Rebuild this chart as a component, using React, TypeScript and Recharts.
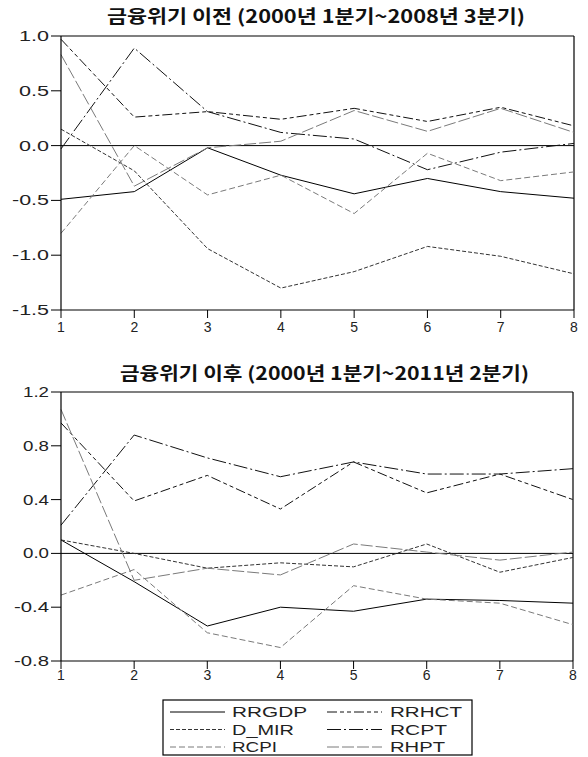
import React from 'react';
import { LineChart, Line, XAxis, YAxis, ReferenceLine } from 'recharts';

const periods = [1, 2, 3, 4, 5, 6, 7, 8];
const seriesNames = ['RRGDP', 'RRHCT', 'D_MIR', 'RCPT', 'RCPI', 'RHPT'];

const preTitle = '금융위기 이전 (2000년 1분기~2008년 3분기)';
const postTitle = '금융위기 이후 (2000년 1분기~2011년 2분기)';

const preYTicks = [-1.5, -1.0, -0.5, 0.0, 0.5, 1.0];
const postYTicks = [-0.8, -0.4, 0.0, 0.4, 0.8, 1.2];

// 금융위기 이전
const preRRGDP = [-0.49, -0.42, -0.02, -0.27, -0.44, -0.30, -0.42, -0.48];
const preRRHCT = [0.97, 0.26, 0.31, 0.24, 0.34, 0.22, 0.35, 0.18];
const preDMIR = [0.15, -0.23, -0.94, -1.30, -1.15, -0.92, -1.01, -1.17];
const preRCPT = [-0.03, 0.89, 0.31, 0.12, 0.06, -0.22, -0.06, 0.02];
const preRCPI = [-0.80, 0.00, -0.45, -0.27, -0.62, -0.07, -0.32, -0.24];
const preRHPT = [0.83, -0.37, -0.02, 0.04, 0.32, 0.13, 0.34, 0.12];

// 금융위기 이후
const postRRGDP = [0.10, -0.21, -0.54, -0.40, -0.43, -0.34, -0.35, -0.37];
const postRRHCT = [0.97, 0.39, 0.58, 0.33, 0.68, 0.45, 0.59, 0.40];
const postDMIR = [0.10, 0.00, -0.11, -0.07, -0.10, 0.07, -0.14, -0.03];
const postRCPT = [0.21, 0.88, 0.71, 0.57, 0.68, 0.59, 0.59, 0.63];
const postRCPI = [-0.31, -0.12, -0.59, -0.70, -0.24, -0.34, -0.37, -0.53];
const postRHPT = [1.07, -0.20, -0.11, -0.16, 0.07, 0.01, -0.05, 0.01];

const buildRows = (cols: number[][]) =>
  periods.map((p, i) => {
    const row: any = { p };
    seriesNames.forEach((n, k) => (row[n] = cols[k][i]));
    return row;
  });

const preData = buildRows([preRRGDP, preRRHCT, preDMIR, preRCPT, preRCPI, preRHPT]);
const postData = buildRows([postRRGDP, postRRHCT, postDMIR, postRCPT, postRCPI, postRHPT]);

const lineStyle: Record<string, { stroke: string; dash?: string }> = {
  RRGDP: { stroke: '#000000' },
  RRHCT: { stroke: '#111111', dash: '10 3 4 3 4 3' },
  D_MIR: { stroke: '#333333', dash: '4 2' },
  RCPT: { stroke: '#111111', dash: '14 3 2 3' },
  RCPI: { stroke: '#7a7a7a', dash: '6 3' },
  RHPT: { stroke: '#7a7a7a', dash: '12 3' },
};

const FONT = '"Liberation Sans", Arial, sans-serif';
const KFONT = '"Noto Sans CJK KR", "Noto Sans", sans-serif';

function makeYTick(wPos: number, wNeg: number) {
  return (props: any) => {
    const { x, y, payload } = props;
    const v = Number(payload.value);
    const label = v.toFixed(1);
    return (
      <text
        x={x}
        y={y + 5}
        textAnchor="end"
        fontSize={15}
        fontFamily={FONT}
        fill="#222"
        textLength={v < 0 ? wNeg : wPos}
        lengthAdjust="spacingAndGlyphs"
      >
        {label}
      </text>
    );
  };
}

function makeXTick(dy: number) {
  return (props: any) => {
    const { x, y, payload } = props;
    return (
      <text x={x} y={y + dy} textAnchor="middle" fontSize={14} fontFamily={FONT} fill="#222">
        {String(payload.value)}
      </text>
    );
  };
}

function Panel(props: {
  data: any[];
  yTicks: number[];
  top: number;
  height: number;
  right: number;
  wPos: number;
  wNeg: number;
  xdy: number;
}) {
  const { data, yTicks, top, height, right, wPos, wNeg, xdy } = props;
  const domain: [number, number] = [yTicks[0], yTicks[yTicks.length - 1]];
  return (
    <div style={{ position: 'absolute', left: 0, top }}>
      <LineChart width={588} height={height} data={data} margin={{ top: 36, right, bottom: 0, left: 0 }}>
        <XAxis
          dataKey="p"
          type="number"
          domain={[1, 8]}
          ticks={periods}
          interval={0}
          height={30}
          tickSize={8}
          tick={makeXTick(xdy)}
          axisLine={{ stroke: '#000', strokeWidth: 1.2 }}
          tickLine={{ stroke: '#000' }}
        />
        <YAxis
          type="number"
          domain={domain}
          ticks={yTicks}
          interval={0}
          width={61}
          tickSize={10}
          tick={makeYTick(wPos, wNeg)}
          axisLine={{ stroke: '#000', strokeWidth: 1.2 }}
          tickLine={{ stroke: '#000' }}
        />
        <ReferenceLine y={domain[1]} stroke="#000" strokeWidth={1.2} />
        <ReferenceLine x={8} stroke="#000" strokeWidth={1.2} />
        <ReferenceLine y={0} stroke="#000" strokeWidth={1} />
        {seriesNames.map((n) => (
          <Line
            key={n}
            dataKey={n}
            type="linear"
            stroke={lineStyle[n].stroke}
            strokeDasharray={lineStyle[n].dash}
            strokeWidth={1}
            dot={false}
            activeDot={false}
            isAnimationActive={false}
          />
        ))}
      </LineChart>
    </div>
  );
}

const legendCols = [
  ['RRGDP', 'D_MIR', 'RCPI'],
  ['RRHCT', 'RCPT', 'RHPT'],
];
const legendTextW: Record<string, number> = {
  RRGDP: 75,
  D_MIR: 62,
  RCPI: 45,
  RRHCT: 72,
  RCPT: 57,
  RHPT: 55,
};

export default function App() {
  const colX = [
    { l1: 170, l2: 225, t: 232 },
    { l1: 327, l2: 382, t: 390 },
  ];
  const rowY = [712, 729.5, 747];
  return (
    <div style={{ position: 'absolute', left: 0, top: 0, width: 588, height: 757, background: '#fff' }}>
      <Panel data={preData} yTicks={preYTicks} top={0} height={340} right={14} wPos={30} wNeg={37} xdy={12} />
      <Panel data={postData} yTicks={postYTicks} top={356} height={335} right={15} wPos={26} wNeg={35} xdy={9} />
      <svg width={588} height={757} style={{ position: 'absolute', left: 0, top: 0, pointerEvents: 'none' }}>
        <text
          x={107}
          y={23}
          fontSize={18}
          fontWeight="bold"
          fontFamily={KFONT}
          fill="#111"
          textLength={418}
          lengthAdjust="spacingAndGlyphs"
        >
          {preTitle}
        </text>
        <text
          x={120}
          y={380}
          fontSize={18}
          fontWeight="bold"
          fontFamily={KFONT}
          fill="#111"
          textLength={409}
          lengthAdjust="spacingAndGlyphs"
        >
          {postTitle}
        </text>
        <rect x={163} y={700} width={309} height={55} fill="none" stroke="#000" strokeWidth={1.2} />
        {legendCols.map((col, ci) =>
          col.map((name, ri) => (
            <g key={name}>
              <line
                x1={colX[ci].l1}
                x2={colX[ci].l2}
                y1={rowY[ri]}
                y2={rowY[ri]}
                stroke={lineStyle[name].stroke}
                strokeDasharray={lineStyle[name].dash}
                strokeWidth={1}
              />
              <text
                x={colX[ci].t}
                y={rowY[ri] + 5}
                fontSize={15}
                fontFamily={FONT}
                fill="#222"
                textLength={legendTextW[name]}
                lengthAdjust="spacingAndGlyphs"
              >
                {name}
              </text>
            </g>
          ))
        )}
      </svg>
    </div>
  );
}
